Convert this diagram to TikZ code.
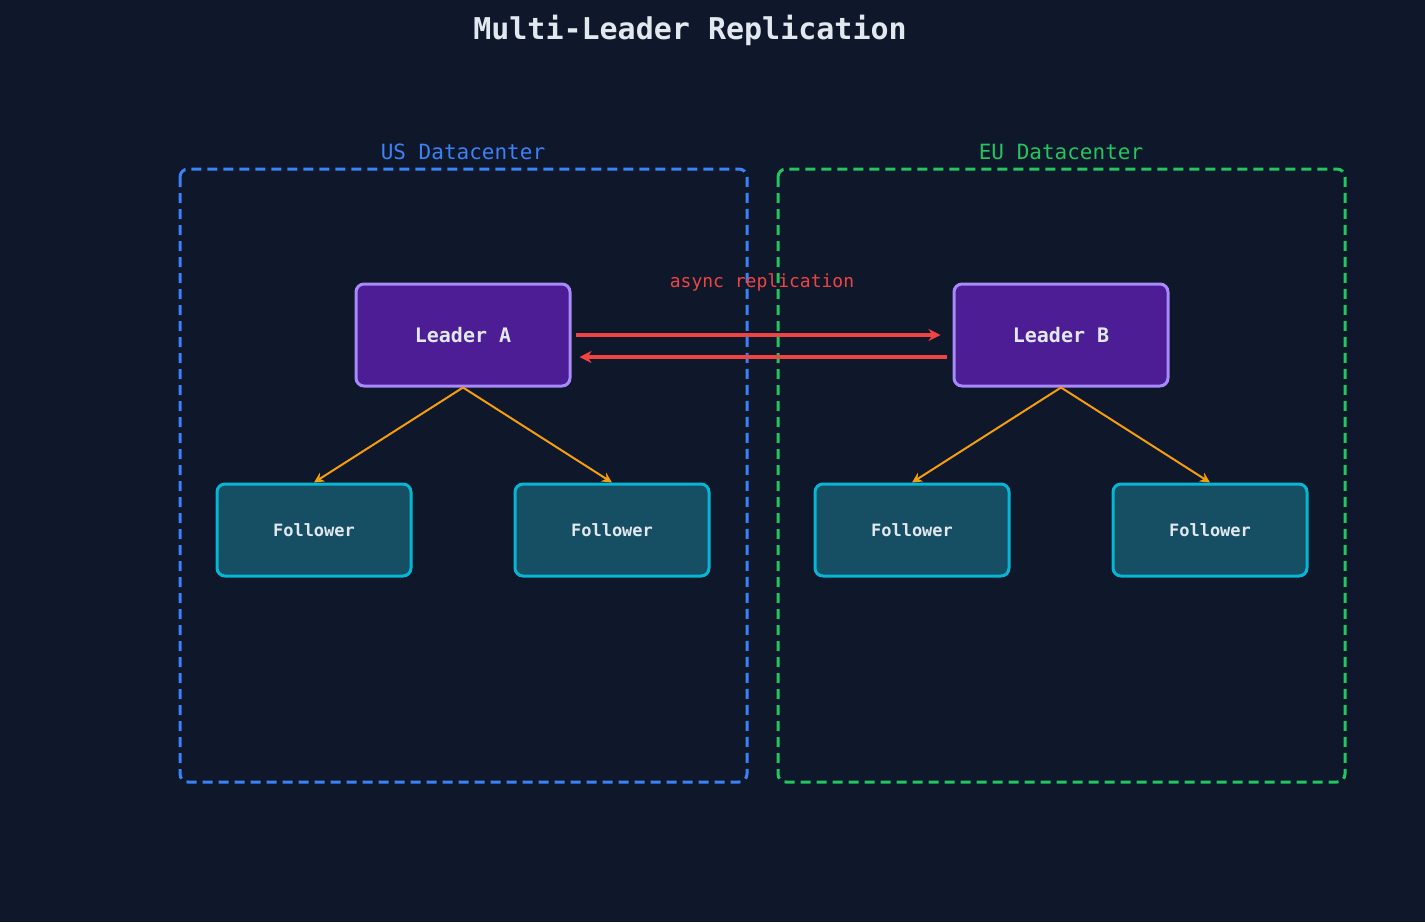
\documentclass[tikz,border=0pt]{standalone}
\usepackage{fontspec}
\setmainfont{DejaVu Sans Mono}
\usetikzlibrary{arrows.meta}
\definecolor{bgc}{HTML}{0F172A}
\definecolor{usc}{HTML}{3B82F6}
\definecolor{euc}{HTML}{22C55E}
\definecolor{ldfill}{HTML}{4C1D95}
\definecolor{ldline}{HTML}{A78BFA}
\definecolor{fwfill}{HTML}{164E63}
\definecolor{fwline}{HTML}{06B6D4}
\definecolor{txt}{HTML}{E2E8F0}
\definecolor{repc}{HTML}{EF4444}
\definecolor{fanc}{HTML}{F59E0B}
\tikzset{
  dc/.style={draw, dashed, line width=1.5pt, rounded corners=4pt, dash pattern=on 5pt off 3pt},
  leader/.style={draw=ldline, fill=ldfill, line width=1.5pt, rounded corners=4pt,
    minimum width=107pt, minimum height=51pt, text=txt, font=\bfseries\fontsize{10}{12}\selectfont},
  follower/.style={draw=fwline, fill=fwfill, line width=1.5pt, rounded corners=4pt,
    minimum width=97pt, minimum height=46pt, text=txt, font=\bfseries\fontsize{8.5}{10}\selectfont},
  rep/.style={repc, line width=2pt, -{Stealth[length=6pt,width=6pt]}},
  fan/.style={fanc, line width=1pt, -{Stealth[length=5pt,width=5pt]}}
}
\begin{document}
\begin{tikzpicture}[x=0.5pt,y=-0.5pt]
\fill[bgc] (0,0) rectangle (1425,922);
\useasboundingbox (0,0) rectangle (1425,922);

\node[text=txt, font=\bfseries\fontsize{15}{18}\selectfont] (title) at (690,30) {Multi-Leader Replication};

% datacenters
\draw[dc, usc] (180,169) rectangle (747,782);
\draw[dc, euc] (778,169) rectangle (1345,782);
\node[text=usc, font=\fontsize{10.5}{12}\selectfont] (uslabel) at (463,152) {US Datacenter};
\node[text=euc, font=\fontsize{10.5}{12}\selectfont] (eulabel) at (1061,152) {EU Datacenter};

% leaders
\node[leader] (leadA) at (463,335) {Leader A};
\node[leader] (leadB) at (1061,335) {Leader B};

% followers
\node[follower] (fa1) at (314,530) {Follower};
\node[follower] (fa2) at (612,530) {Follower};
\node[follower] (fb1) at (912,530) {Follower};
\node[follower] (fb2) at (1210,530) {Follower};

% replication
\draw[rep] ([yshift=0pt]leadA.east) ++(4,0) coordinate (r1) -- ([xshift=-6pt]leadB.west |- r1);
\draw[rep] ([xshift=-3pt,yshift=-11pt]leadB.west) -- ([xshift=4pt,yshift=-11pt]leadA.east);
\node[text=repc, font=\fontsize{9}{11}\selectfont] (asynclabel) at (762,282) {async replication};

\foreach \l/\f in {leadA/fa1, leadA/fa2, leadB/fb1, leadB/fb2}
  \draw[fan] (\l.south) -- (\f.north);
\end{tikzpicture}
\end{document}
